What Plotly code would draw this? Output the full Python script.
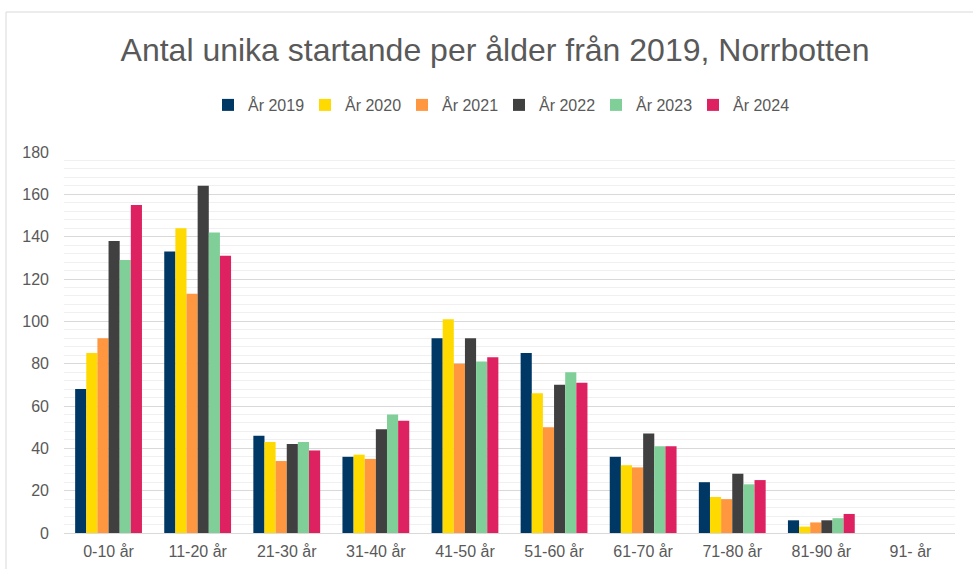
import plotly.graph_objects as go

categories = ["0-10 år", "11-20 år", "21-30 år", "31-40 år", "41-50 år",
              "51-60 år", "61-70 år", "71-80 år", "81-90 år", "91- år"]
years = ["År 2019", "År 2020", "År 2021", "År 2022", "År 2023", "År 2024"]
v2019 = [68, 133, 46, 36, 92, 85, 36, 24, 6, 0]
v2020 = [85, 144, 43, 37, 101, 66, 32, 17, 3, 0]
v2021 = [92, 113, 34, 35, 80, 50, 31, 16, 5, 0]
v2022 = [138, 164, 42, 49, 92, 70, 47, 28, 6, 0]
v2023 = [129, 142, 43, 56, 81, 76, 41, 23, 7, 0]
v2024 = [155, 131, 39, 53, 83, 71, 41, 25, 9, 0]
series = [v2019, v2020, v2021, v2022, v2023, v2024]
colors = ["#003865", "#FFDA00", "#FF9640", "#404040", "#80CF98", "#DE2160"]

W, H = 973, 569
L, R, T, B = 64, 18, 152, 36

fig = go.Figure()
for name, vals, c in zip(years, series, colors):
    fig.add_trace(go.Bar(x=categories, y=vals, name=name, marker_color=c,
                         marker_line_width=0))

pw = W - L - R
ph = H - T - B
fig.update_layout(
    width=W, height=H,
    margin=dict(l=L, r=R, t=T, b=B, autoexpand=False),
    plot_bgcolor="white", paper_bgcolor="white",
    font=dict(family="Liberation Sans, Arial, sans-serif", color="#595959", size=16),
    title=dict(text="Antal unika startande per ålder från 2019, Norrbotten",
               x=495 / W, xanchor="center", xref="container",
               y=1 - 50 / H, yanchor="middle", yref="container",
               font=dict(size=32, color="#595959")),
    legend=dict(orientation="h", x=499 / W, xanchor="center", xref="container",
                y=1 - 105 / H, yanchor="middle", yref="container",
                font=dict(size=16, color="#595959"), itemwidth=30,
                entrywidth=52, entrywidthmode="pixels",
                traceorder="normal"),
    barmode="group", bargap=0.25, bargroupgap=0,
    xaxis=dict(showline=True, linecolor="#d9d9d9", linewidth=1, ticks="",
               tickfont=dict(size=16, color="#595959"), ticklabelstandoff=4,
               automargin=False),
    yaxis=dict(range=[0, 180], dtick=20, tick0=0, showgrid=True,
               gridcolor="#d9d9d9", gridwidth=1, zeroline=False,
               ticks="", tickfont=dict(size=16, color="#595959"),
               ticklabelstandoff=14, automargin=False,
               minor=dict(dtick=4, showgrid=True, gridcolor="#f0f0f0", gridwidth=1)),
    shapes=[dict(type="rect", xref="paper", yref="paper",
                 x0=(6 - L) / pw, x1=(W + 10 - L) / pw,
                 y0=-(H + 10 - (T + ph)) / ph, y1=(T + ph - 12) / ph,
                 line=dict(color="#d9d9d9", width=1), fillcolor="rgba(0,0,0,0)",
                 layer="below")],
)

fig.write_html("out.html", config={"displayModeBar": False},
               post_script="document.body.style.margin='0';")
